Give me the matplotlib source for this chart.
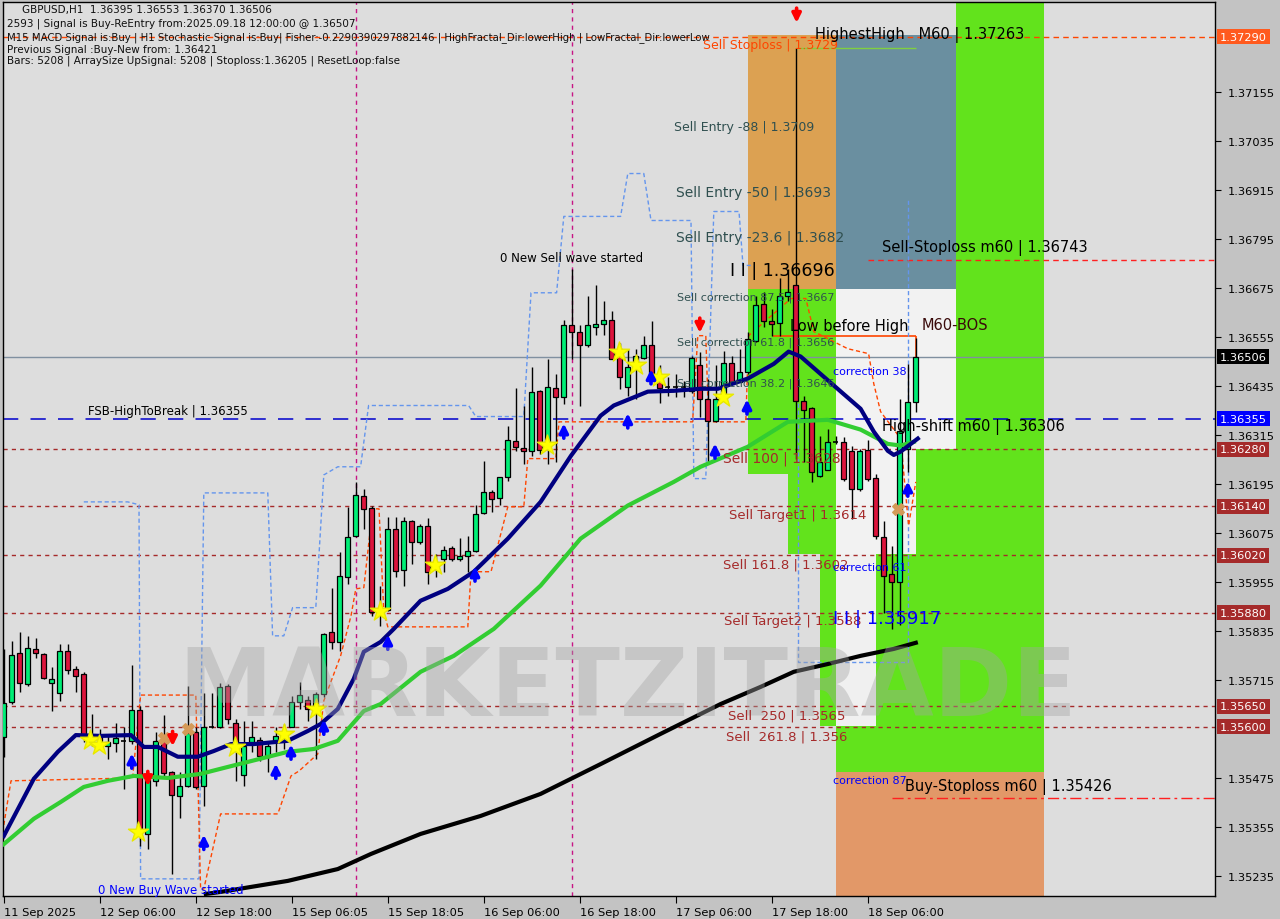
import matplotlib.pyplot as plt
import matplotlib.transforms as mtransforms
from matplotlib.patches import Rectangle

# GBPUSD H1 candles
opens = [1.35576, 1.35661, 1.35781, 1.35705, 1.35791, 1.35779, 1.35708, 1.35683, 1.35786, 1.35742,
         1.35730, 1.35571, 1.35578, 1.35554, 1.35561, 1.35566, 1.35566, 1.35642, 1.35338, 1.35468,
         1.35566, 1.35490, 1.35431, 1.35456, 1.35588, 1.35456, 1.35600, 1.35600, 1.35700, 1.35610,
         1.35482, 1.35563, 1.35568, 1.35527, 1.35563, 1.35571, 1.35600, 1.35661, 1.35666, 1.35644,
         1.35681, 1.35833, 1.35808, 1.35968, 1.36068, 1.36166, 1.36137, 1.35889, 1.35887, 1.36085,
         1.35985, 1.36105, 1.36053, 1.36093, 1.35987, 1.36012, 1.36039, 1.36012, 1.36019, 1.36031,
         1.36124, 1.36176, 1.36161, 1.36213, 1.36301, 1.36284, 1.36276, 1.36423, 1.36284, 1.36431,
         1.36409, 1.36583, 1.36568, 1.36534, 1.36580, 1.36587, 1.36597, 1.36526, 1.36433, 1.36489,
         1.36504, 1.36534, 1.36453, 1.36433, 1.36433, 1.36433, 1.36423, 1.36487, 1.36404, 1.36350,
         1.36404, 1.36492, 1.36445, 1.36470, 1.36546, 1.36636, 1.36595, 1.36590, 1.36656, 1.36681,
         1.36399, 1.36382, 1.36215, 1.36230, 1.36298, 1.36298, 1.36276, 1.36183, 1.36279, 1.36210,
         1.36066, 1.35975, 1.35955, 1.36281, 1.36395]
highs = [1.35791, 1.35811, 1.35833, 1.35823, 1.35818, 1.35780, 1.35747, 1.35803, 1.35803, 1.35750,
         1.35735, 1.35632, 1.35595, 1.35578, 1.35610, 1.35600, 1.35752, 1.35652, 1.35490, 1.35588,
         1.35629, 1.35492, 1.35490, 1.35700, 1.35600, 1.35683, 1.35683, 1.35708, 1.35705, 1.35620,
         1.35615, 1.35615, 1.35576, 1.35563, 1.35600, 1.35607, 1.35676, 1.35710, 1.35676, 1.35686,
         1.35830, 1.35941, 1.36029, 1.36139, 1.36200, 1.36183, 1.36142, 1.35946, 1.36115, 1.36115,
         1.36115, 1.36107, 1.36097, 1.36112, 1.36024, 1.36044, 1.36044, 1.36063, 1.36068, 1.36144,
         1.36252, 1.36181, 1.36213, 1.36338, 1.36431, 1.36387, 1.36482, 1.36425, 1.36502, 1.36465,
         1.36597, 1.36722, 1.36585, 1.36656, 1.36683, 1.36644, 1.36619, 1.36541, 1.36526, 1.36526,
         1.36558, 1.36595, 1.36485, 1.36458, 1.36465, 1.36448, 1.36507, 1.36519, 1.36453, 1.36485,
         1.36521, 1.36509, 1.36526, 1.36568, 1.36654, 1.36666, 1.36624, 1.36698, 1.36722, 1.37263,
         1.36411, 1.36384, 1.36313, 1.36330, 1.36313, 1.36311, 1.36289, 1.36281, 1.36303, 1.36220,
         1.36105, 1.36044, 1.36404, 1.36489, 1.36553]
lows = [1.35527, 1.35656, 1.35686, 1.35700, 1.35769, 1.35718, 1.35639, 1.35664, 1.35730, 1.35686,
        1.35563, 1.35554, 1.35546, 1.35522, 1.35539, 1.35448, 1.35558, 1.35309, 1.35301, 1.35456,
        1.35480, 1.35240, 1.35377, 1.35453, 1.35448, 1.35407, 1.35598, 1.35598, 1.35607, 1.35468,
        1.35456, 1.35539, 1.35517, 1.35490, 1.35539, 1.35546, 1.35600, 1.35644, 1.35615, 1.35522,
        1.35674, 1.35791, 1.35786, 1.35950, 1.36066, 1.36085, 1.35872, 1.35848, 1.35885, 1.35968,
        1.35946, 1.36000, 1.36048, 1.35950, 1.35968, 1.35980, 1.36007, 1.36007, 1.35980, 1.36029,
        1.36122, 1.36127, 1.36144, 1.36203, 1.36276, 1.36244, 1.36264, 1.36269, 1.36244, 1.36249,
        1.36391, 1.36502, 1.36387, 1.36531, 1.36560, 1.36560, 1.36500, 1.36428, 1.36411, 1.36404,
        1.36502, 1.36448, 1.36394, 1.36411, 1.36409, 1.36409, 1.36418, 1.36360, 1.36244, 1.36347,
        1.36404, 1.36445, 1.36445, 1.36465, 1.36543, 1.36580, 1.36558, 1.36558, 1.36644, 1.36257,
        1.36249, 1.36200, 1.36213, 1.36228, 1.36293, 1.36203, 1.36110, 1.36178, 1.36203, 1.36061,
        1.35880, 1.35840, 1.35850, 1.36225, 1.36370]
closes = [1.35659, 1.35776, 1.35708, 1.35794, 1.35781, 1.35720, 1.35718, 1.35786, 1.35740, 1.35725,
          1.35578, 1.35578, 1.35566, 1.35563, 1.35573, 1.35567, 1.35642, 1.35350, 1.35473, 1.35566,
          1.35487, 1.35433, 1.35456, 1.35585, 1.35453, 1.35600, 1.35603, 1.35698, 1.35620, 1.35551,
          1.35554, 1.35576, 1.35529, 1.35554, 1.35578, 1.35588, 1.35661, 1.35678, 1.35644, 1.35681,
          1.35828, 1.35808, 1.35970, 1.36066, 1.36168, 1.36134, 1.35882, 1.35879, 1.36085, 1.35982,
          1.36105, 1.36053, 1.36093, 1.35980, 1.36000, 1.36034, 1.36012, 1.36019, 1.36031, 1.36122,
          1.36176, 1.36159, 1.36213, 1.36303, 1.36286, 1.36276, 1.36421, 1.36279, 1.36433, 1.36409,
          1.36583, 1.36568, 1.36534, 1.36583, 1.36587, 1.36597, 1.36502, 1.36458, 1.36482, 1.36507,
          1.36534, 1.36453, 1.36431, 1.36435, 1.36434, 1.36434, 1.36504, 1.36404, 1.36350, 1.36404,
          1.36492, 1.36445, 1.36470, 1.36551, 1.36632, 1.36595, 1.36587, 1.36654, 1.36666, 1.36399,
          1.36377, 1.36225, 1.36249, 1.36298, 1.36299, 1.36208, 1.36183, 1.36276, 1.36208, 1.36068,
          1.35970, 1.35955, 1.36325, 1.36396, 1.36506]

# moving averages (bar index, price)
ma_fast_bars = [0, 3.75, 6.75, 9, 12.1, 15.9, 17.5, 19.25, 21.75, 24.25, 26.25, 28.4, 31.25, 35.5, 38,
                39.6, 41.75, 43.75, 45, 47.1, 48.75, 52.1, 55.5, 58.75, 63, 67.1, 70.9, 74.6, 76.25,
                80.5, 83.75, 87.1, 89.25, 93, 96.25, 98.1, 99.6, 103.75, 107.1, 108.75, 110.5, 111.25,
                112.1, 114.25]
ma_fast = [1.35333, 1.35473, 1.35539, 1.35580, 1.35578, 1.35580, 1.35551, 1.35551, 1.35527, 1.35527,
           1.35541, 1.35558, 1.35558, 1.35566, 1.35590, 1.35607, 1.35644, 1.35718, 1.35784, 1.35808,
           1.35840, 1.35909, 1.35938, 1.35980, 1.36061, 1.36151, 1.36264, 1.36362, 1.36387, 1.36421,
           1.36423, 1.36428, 1.36428, 1.36453, 1.36489, 1.36519, 1.36507, 1.36436, 1.36379, 1.36323,
           1.36276, 1.36266, 1.36274, 1.36306]
ma_mid_bars = [0, 3.75, 7.1, 10, 13, 16.25, 20.5, 24.6, 28, 35.5, 38.75, 41.75, 45, 47.1, 52.1, 56.25,
               61.25, 67.1, 72.1, 78, 83.75, 87.1, 93, 98, 103, 107.1, 110.5, 112.1, 113.75]
ma_mid = [1.35313, 1.35375, 1.35416, 1.35453, 1.35468, 1.35480, 1.35475, 1.35485, 1.35502, 1.35539,
          1.35546, 1.35566, 1.35639, 1.35656, 1.35735, 1.35774, 1.35840, 1.35946, 1.36061, 1.36142,
          1.36200, 1.36237, 1.36286, 1.36347, 1.36352, 1.36328, 1.36293, 1.36289, 1.36298]
ma_slow_bars = [25.25, 27.1, 35.5, 41.75, 45.9, 52.1, 59.6, 67.1, 74.6, 82.1, 89.6, 94.6, 98.75, 103,
                107.1, 111.25, 114]
ma_slow = [1.35191, 1.35196, 1.35223, 1.35252, 1.35289, 1.35338, 1.35382, 1.35436, 1.35509, 1.35583,
           1.35656, 1.35698, 1.35735, 1.35754, 1.35774, 1.35791, 1.35806]

# fractal channel lines (bar index, price)
upper_bars = [10, 15.5, 16.9, 17.1, 24.4, 25, 33, 33.6, 35, 36.1, 39, 40, 41.75, 44.6, 45.6, 58.1, 59,
              65, 65.9, 69.1, 70, 77.1, 78, 80, 80.9, 85.9, 86.25, 87.75, 88.75, 91.9, 92.4, 93.4]
upper_px = [1.36151, 1.36151, 1.36144, 1.35228, 1.35228, 1.36173, 1.36173, 1.35823, 1.35823, 1.35892,
            1.35892, 1.36217, 1.36237, 1.36237, 1.36387, 1.36387, 1.36360, 1.36360, 1.36663, 1.36663,
            1.36850, 1.36850, 1.36955, 1.36955, 1.36840, 1.36840, 1.36208, 1.36208, 1.36862, 1.36862,
            1.36730, 1.36730]
box_bars = [99.25, 99.25, 113, 113]
box_px = [1.36649, 1.35759, 1.35759, 1.36894]
lower_bars = [0, 0.9, 16.1, 17.1, 24, 24.6, 25, 27.1, 34.25, 35.9, 36.9, 39.25, 40, 42.1, 43.4, 44, 45,
              46.1, 46.9, 47.5, 48, 58, 58.4, 60.9, 63, 65, 65.5, 69, 69.4, 86.1, 86.75, 87.75, 88.1,
              92.75, 93.1, 98.4, 100.25, 101.25, 105.5, 108.1, 108.75, 109.6, 112.1, 113.1, 114]
lower_px = [1.35360, 1.35468, 1.35475, 1.35678, 1.35678, 1.35203, 1.35203, 1.35387, 1.35387, 1.35480,
            1.35492, 1.35534, 1.35664, 1.35774, 1.35872, 1.35938, 1.35941, 1.36134, 1.36134, 1.35882,
            1.35845, 1.35845, 1.35980, 1.35980, 1.36139, 1.36139, 1.36257, 1.36257, 1.36347, 1.36347,
            1.36558, 1.36558, 1.36347, 1.36347, 1.36558, 1.36649, 1.36649, 1.36568, 1.36526, 1.36514,
            1.36440, 1.36372, 1.36306, 1.36093, 1.36200]

# signal markers (bar index, price)
star_bars = [10.75, 11.9, 16.75, 28.9, 35, 39, 47, 53.9, 67.9, 76.9, 79, 81.9, 89.9]
star_px = [1.35568, 1.35556, 1.35343, 1.35551, 1.35583, 1.35644, 1.35884, 1.35997, 1.36291, 1.36519,
           1.36487, 1.36458, 1.36409]
up_bars = [16, 25, 34, 35.9, 40, 48, 58.9, 70, 78, 80.9, 88.9, 92.9, 113]
up_px = [1.35517, 1.35318, 1.35492, 1.35539, 1.35600, 1.35808, 1.35975, 1.36325, 1.36350, 1.36458,
         1.36276, 1.36384, 1.36183]
down_bars = [99.1, 87, 18, 21.1]
down_px = [1.37342, 1.36583, 1.35473, 1.35571]
cross_bars = [20, 23, 111.75]
cross_px = [1.35573, 1.35595, 1.36134]

# zones: start bar, end bar, low, high
zone_start = [93, 104, 119, 93, 98, 102, 104, 109, 114, 104, 104, 104, 104]
zone_end = [104, 119, 130, 98, 104, 104, 130, 114, 119, 119, 114, 109, 130]
zone_low = [1.36673, 1.36673, 1.35490, 1.36220, 1.36024, 1.35603, 1.35490, 1.35490, 1.35490, 1.36281,
            1.36024, 1.35603, 1.35150]
zone_high = [1.37293, 1.37293, 1.37400, 1.36673, 1.36673, 1.36024, 1.35603, 1.36024, 1.36281, 1.36673,
             1.36281, 1.36024, 1.35490]
zone_colors = ['#dca152', '#6a8fa0', '#62e31c', '#62e31c', '#62e31c', '#62e31c', '#62e31c', '#62e31c',
               '#62e31c', '#f2f2f2', '#f2f2f2', '#f0f0f0', '#e29868']

target_levels = [1.36280, 1.36140, 1.36020, 1.35880, 1.35650, 1.35600]
top_level = 1.37290
fsb_level = 1.36355
last_price = 1.36506

y_ticks = [1.37155, 1.37035, 1.36915, 1.36795, 1.36675, 1.36555, 1.36435, 1.36315, 1.36195, 1.36075,
           1.35955, 1.35835, 1.35715, 1.35475, 1.35355, 1.35235]
x_tick_bars = [0, 12, 24, 36, 48, 60, 72, 84, 96, 108]
x_tick_labels = ['11 Sep 2025', '12 Sep 06:00', '12 Sep 18:00', '15 Sep 06:05', '15 Sep 18:05',
                 '16 Sep 06:00', '16 Sep 18:00', '17 Sep 06:00', '17 Sep 18:00', '18 Sep 06:00']

W, H = 1280, 920
fig = plt.figure(figsize=(W / 100, H / 100), dpi=100)
fig.patch.set_facecolor('#c3c3c3')
ax = fig.add_axes([3 / W, 23 / H, 1212 / W, 894 / H])
ax.set_facecolor('#dddddd')
ax.set_xlim(-0.1, 151.4)
ax.set_ylim(1.35186, 1.37375)


def put(x, y, s, size, color, **kw):
    fig.text(x / W, 1 - y / H, s, fontsize=size, color=color, va='center', ha='left', **kw)


# zones
for s, e, lo, hi, c in zip(zone_start, zone_end, zone_low, zone_high, zone_colors):
    ax.add_patch(Rectangle((s, lo), e - s, hi - lo, facecolor=c, edgecolor='none', zorder=1))

# watermark
put(178, 690, 'MARKETZITRADE', 68, '#a4a4a4', fontweight='bold', alpha=0.4, zorder=0)

# horizontal levels
for lv in target_levels:
    ax.axhline(lv, color='#a52a2a', lw=1, ls=(0, (3, 3)), zorder=2)
ax.axhline(top_level, color='#ff4500', lw=1, ls=(0, (4, 3)), zorder=2)
ax.axhline(fsb_level, color='#0000cd', lw=1.1, ls=(0, (10, 8)), zorder=2)
ax.axhline(last_price, color='#8090a0', lw=1, zorder=2)
ax.hlines(1.36743, 108, 151.4, color='#ff2020', lw=1, ls=(0, (4, 3)), zorder=2)
ax.hlines(1.35426, 111, 151.4, color='#ff2020', lw=1, ls=(0, (8, 3, 2, 3)), zorder=2)
ax.hlines(1.37263, 99, 114, color='#80d040', lw=1, zorder=2)
ax.hlines(1.36556, 96.1, 114, color='#ff4500', lw=1.2, zorder=2)
ax.vlines(114, 1.36506, 1.36556, color='#ff4500', lw=1.2, zorder=2)

# vertical session lines
for vb in [44, 71]:
    ax.axvline(vb, color='#c71585', lw=1, ls=(0, (3, 3)), zorder=2)

# channel lines
ax.plot(upper_bars, upper_px, color='#6495ed', lw=1, ls=(0, (3, 2)), zorder=2)
ax.plot(box_bars, box_px, color='#6495ed', lw=1, ls=(0, (3, 2)), zorder=2)
ax.plot(lower_bars, lower_px, color='#ff4500', lw=1, ls=(0, (3, 2)), zorder=2)

# moving averages
ax.plot(ma_slow_bars, ma_slow, color='black', lw=3, zorder=4)
ax.plot(ma_mid_bars, ma_mid, color='#32cd32', lw=3, zorder=4)
ax.plot(ma_fast_bars, ma_fast, color='#000080', lw=3, zorder=4)

# candles
for i, (o, h, l, c) in enumerate(zip(opens, highs, lows, closes)):
    ax.vlines(i, l, h, color='black', lw=1, zorder=3)
    if abs(c - o) < 0.00003:
        ax.hlines(o, i - 0.3, i + 0.3, color='black', lw=1.2, zorder=3)
        continue
    col = '#00ee76' if c > o else '#dc143c'
    ax.bar(i, abs(c - o), bottom=min(o, c), width=0.66, color=col, edgecolor='black',
           linewidth=0.9, zorder=3)

# markers
ax.scatter(star_bars, star_px, marker='*', s=230, color='#ffff00', edgecolors='#e8e800', zorder=5)
ax.scatter(cross_bars, cross_px, marker='X', s=70, color='#d49a58', zorder=5)
arrow_len = 0.00018
for b, p in zip(up_bars, up_px):
    ax.annotate('', xy=(b, p + arrow_len), xytext=(b, p - arrow_len),
                arrowprops=dict(arrowstyle='-|>', color='#0000ff', lw=2.6, mutation_scale=13,
                                shrinkA=0, shrinkB=0), zorder=6)
for b, p in zip(down_bars, down_px):
    ax.annotate('', xy=(b, p - arrow_len), xytext=(b, p + arrow_len),
                arrowprops=dict(arrowstyle='-|>', color='#ff0000', lw=2.6, mutation_scale=13,
                                shrinkA=0, shrinkB=0), zorder=6)

# axes styling
for sp in ax.spines.values():
    sp.set_color('black')
    sp.set_linewidth(1)
ax.yaxis.tick_right()
ax.set_yticks(y_ticks)
ax.set_yticklabels([f'{v:.5f}' for v in y_ticks], fontsize=8.2)
ax.tick_params(axis='y', length=4, pad=5, colors='black')
ax.set_xticks(x_tick_bars)
ax.set_xticklabels(x_tick_labels, fontsize=8.2)
ax.tick_params(axis='x', length=5, pad=3)
for lab in ax.get_xticklabels():
    lab.set_ha('left')

# price boxes on the right axis
tr = mtransforms.blended_transform_factory(ax.transAxes, ax.transData)
boxes = [(top_level, '#ff5a1e'), (last_price, '#000000'), (fsb_level, '#0000ff')] + \
        [(lv, '#a52a2a') for lv in target_levels]
for lv, c in boxes:
    ax.text(1.0 + 5 / 1212, lv, f'{lv:.5f}', transform=tr, fontsize=8.2, color='white',
            ha='left', va='center', zorder=10, clip_on=False,
            bbox=dict(boxstyle='square,pad=0.22', fc=c, ec='none'))

# header
put(22, 10, 'GBPUSD,H1  1.36395 1.36553 1.36370 1.36506', 7.5, '#101010')
put(7, 24, '2593 | Signal is Buy-ReEntry from:2025.09.18 12:00:00 @ 1.36507', 7.5, '#101010')
put(7, 38, 'M15 MACD Signal is:Buy | H1 Stochastic Signal is:Buy| Fisher:-0.2290390297882146 | '
    'HighFractal_Dir:lowerHigh | LowFractal_Dir:lowerLow', 7.3, '#101010')
put(7, 50, 'Previous Signal :Buy-New from: 1.36421', 7.5, '#101010')
put(7, 61, 'Bars: 5208 | ArraySize UpSignal: 5208 | Stoploss:1.36205 | ResetLoop:false', 7.5, '#101010')

# annotations
put(500, 258, '0 New Sell wave started', 8.5, 'black')
put(88, 412, 'FSB-HighToBreak | 1.36355', 8.5, 'black')
put(98, 891, '0 New Buy Wave started', 8.5, '#0000ff')
put(703, 45, 'Sell Stoploss | 1.3729', 9, '#ff4500')
put(815, 35, 'HighestHigh   M60 | 1.37263', 10.5, 'black')
put(674, 127, 'Sell Entry -88 | 1.3709', 9, '#2f4f4f')
put(676, 193, 'Sell Entry -50 | 1.3693', 10, '#2f4f4f')
put(676, 238, 'Sell Entry -23.6 | 1.3682', 10, '#2f4f4f')
put(730, 271, 'I I | 1.36696', 12.5, 'black')
put(677, 298, 'Sell correction 87.5 | 1.3667', 8, '#2f4f4f')
put(790, 326, 'Low before High', 10.5, 'black')
put(922, 326, 'M60-BOS', 10.5, '#3a0a0a')
put(677, 343, 'Sell correction 61.8 | 1.3656', 8, '#2f4f4f')
put(833, 372, 'correction 38', 8, '#0000ff')
put(677, 384, 'Sell correction 38.2 | 1.3646', 8, '#2f4f4f')
put(882, 427, 'High-shift m60 | 1.36306', 10.5, 'black')
put(882, 248, 'Sell-Stoploss m60 | 1.36743', 10.5, 'black')
put(723, 459, 'Sell 100 | 1.3628', 10, '#a52a2a')
put(729, 516, 'Sell Target1 | 1.3614', 9.5, '#a52a2a')
put(723, 565, 'Sell 161.8 | 1.3602', 9.5, '#a52a2a')
put(833, 568, 'correction 61', 8, '#0000ff')
put(724, 622, 'Sell Target2 | 1.3588', 9.5, '#a52a2a')
put(833, 619, 'I I | 1.35917', 13, '#0000ff')
put(728, 716, 'Sell  250 | 1.3565', 9.5, '#a52a2a')
put(726, 737, 'Sell  261.8 | 1.356', 9.5, '#a52a2a')
put(833, 781, 'correction 87', 8, '#0000ff')
put(905, 787, 'Buy-Stoploss m60 | 1.35426', 10.5, 'black')

fig.savefig('out.png', dpi=100, facecolor=fig.get_facecolor())
